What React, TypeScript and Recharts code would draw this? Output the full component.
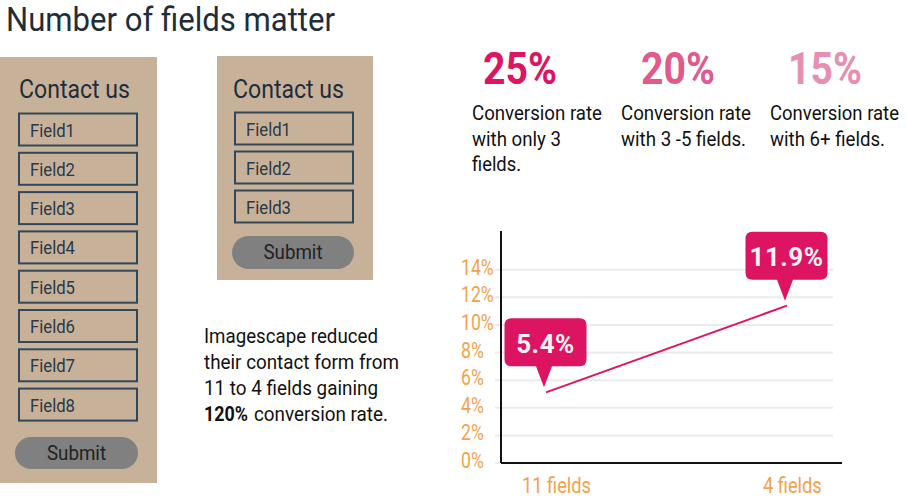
import React from "react";
import { LineChart, Line, XAxis, YAxis, CartesianGrid, LabelList } from "recharts";

// ---------- data ----------
const title = "Number of fields matter";
const formTitle = "Contact us";
const submitLabel = "Submit";
const longFormFields = ["Field1", "Field2", "Field3", "Field4", "Field5", "Field6", "Field7", "Field8"];
const shortFormFields = ["Field1", "Field2", "Field3"];
const statValues = ["25%", "20%", "15%"];
const statDescriptions = [
  ["Conversion rate", "with only 3", "fields."],
  ["Conversion rate", "with 3 -5 fields."],
  ["Conversion rate", "with 6+ fields."],
];
const paragraphLines = ["Imagescape reduced", "their contact form from", "11 to 4 fields gaining"];
const paragraphBold = "120%";
const paragraphTail = "conversion rate.";

const categories = ["11 fields", "4 fields"];
const conversionRates = [5.4, 11.9];
const calloutLabels = ["5.4%", "11.9%"];
const yTicks = [0, 2, 4, 6, 8, 10, 12, 14];

const chartData = categories.map((name, i) => ({ name, rate: conversionRates[i], label: calloutLabels[i] }));

// ---------- styles ----------
const FONT = "Roboto, 'Noto Sans', sans-serif";
const PANEL = "#c7b299";
const NAVY = "#1f2d3b";
const FIELD_STROKE = "#33475a";
const SUBMIT = "#808080";
const PINK = "#dc1461";
const ORANGE = "#f4a24a";
const GRID = "#ebebeb";
const statColors = ["#dc1461", "#e05a8b", "#e68fb0"];
const statX = [483, 641, 788];
const descX = [472, 621, 770];
const descWidths = [
  [130, 89, 49],
  [130, 125],
  [129, 115],
];
const paraWidths = [174, 195, 174];

const Y_DOMAIN: [number, number] = [0, 16.8];
const PLOT_TOP = 231;
const PLOT_BOTTOM = 463;

const YTick = (props: any) => {
  const { y, payload } = props;
  const label = `${payload.value}%`;
  return (
    <text
      transform={`translate(461,${y + 5}) scale(0.8,1)`}
      fontFamily={FONT}
      fontSize={22}
      fill={ORANGE}
      textAnchor="start"
    >
      {label}
    </text>
  );
};

const XTick = (props: any) => {
  const { x, y, payload } = props;
  return (
    <text
      transform={`translate(${x - 24},${y + 30}) scale(0.83,1)`}
      fontFamily={FONT}
      fontSize={22}
      fill={ORANGE}
      textAnchor="start"
    >
      {payload.value}
    </text>
  );
};

const Callout = (props: any) => {
  const { x, y, index } = props;
  const text = calloutLabels[index];
  const tipX = x - 2;
  const tipY = y - 5;
  const w = 82;
  const h = 48;
  const cx = tipX + 1.5;
  const bottom = tipY - 21;
  const top = bottom - h;
  const left = cx - w / 2;
  const r = 7;
  const d = [
    `M ${left + r} ${top}`,
    `H ${left + w - r}`,
    `Q ${left + w} ${top} ${left + w} ${top + r}`,
    `V ${bottom - r}`,
    `Q ${left + w} ${bottom} ${left + w - r} ${bottom}`,
    `H ${tipX + 8}`,
    `L ${tipX} ${tipY}`,
    `L ${tipX - 8} ${bottom}`,
    `H ${left + r}`,
    `Q ${left} ${bottom} ${left} ${bottom - r}`,
    `V ${top + r}`,
    `Q ${left} ${top} ${left + r} ${top}`,
    "Z",
  ].join(" ");
  return (
    <g>
      <path d={d} fill={PINK} />
      <text
        x={cx}
        y={top + 34.5}
        textAnchor="middle"
        fontFamily={FONT}
        fontWeight={700}
        fontSize={26}
        letterSpacing={0.5}
        fill="#f3f3f3"
      >
        {text}
      </text>
    </g>
  );
};

const FormPanel = ({
  x, y, w, h, fields, fieldX, fieldTop, pitch, submitX, submitY, submitW, submitH, titleX,
}: any) => (
  <g>
    <rect x={x} y={y} width={w} height={h} fill={PANEL} />
    <text x={titleX} y={98} fontFamily={FONT} fontSize={26} fill={NAVY} textLength={111} lengthAdjust="spacingAndGlyphs">
      {formTitle}
    </text>
    {fields.map((f: string, i: number) => {
      const top = fieldTop + i * pitch;
      return (
        <g key={f}>
          <rect x={fieldX} y={top} width={118} height={32} fill="none" stroke={FIELD_STROKE} strokeWidth={2} />
          <text x={fieldX + 11} y={top + 23} fontFamily={FONT} fontSize={19} fill="#2a3847" textLength={45} lengthAdjust="spacingAndGlyphs">
            {f}
          </text>
        </g>
      );
    })}
    <rect x={submitX} y={submitY} width={submitW} height={submitH} rx={submitH / 2} fill={SUBMIT} />
    <text
      x={submitX + submitW / 2}
      y={submitY + 23}
      textAnchor="middle"
      fontFamily={FONT}
      fontSize={20}
      fill="#222"
      textLength={59}
      lengthAdjust="spacingAndGlyphs"
    >
      {submitLabel}
    </text>
  </g>
);

const gridCoords = (args: any) => {
  const scale = args?.yAxis?.scale;
  if (scale && typeof scale === "function") {
    return yTicks.map((t) => scale(t));
  }
  return yTicks.map(
    (t) => PLOT_BOTTOM - ((t - Y_DOMAIN[0]) / (Y_DOMAIN[1] - Y_DOMAIN[0])) * (PLOT_BOTTOM - PLOT_TOP)
  );
};

export default function App() {
  return (
    <div style={{ position: "absolute", left: 0, top: 0, width: 906, height: 501, background: "#fff", overflow: "hidden" }}>
      <svg width={906} height={501} style={{ position: "absolute", left: 0, top: 0 }}>
        <text x={6} y={31} fontFamily={FONT} fontSize={33} fill={NAVY} textLength={329} lengthAdjust="spacingAndGlyphs">
          {title}
        </text>

        <FormPanel
          x={0} y={57} w={157} h={426}
          fields={longFormFields} fieldX={19} fieldTop={113.5} pitch={39.3}
          submitX={15} submitY={437} submitW={123} submitH={32} titleX={19}
        />
        <FormPanel
          x={217} y={56} w={156} h={224}
          fields={shortFormFields} fieldX={235} fieldTop={112.5} pitch={39}
          submitX={232} submitY={236} submitW={122} submitH={33} titleX={233}
        />

        {paragraphLines.map((line, i) => (
          <text key={line} x={204} y={343 + i * 26} fontFamily={FONT} fontSize={21} fill="#111" textLength={paraWidths[i]} lengthAdjust="spacingAndGlyphs">
            {line}
          </text>
        ))}
        <text x={204} y={421} fontFamily={FONT} fontWeight={700} fontSize={21} fill="#111" textLength={44} lengthAdjust="spacingAndGlyphs">
          {paragraphBold}
        </text>
        <text x={254} y={421} fontFamily={FONT} fontSize={21} fill="#111" textLength={134} lengthAdjust="spacingAndGlyphs">
          {paragraphTail}
        </text>

        {statValues.map((s, i) => (
          <text key={s} x={statX[i]} y={84} fontFamily={FONT} fontWeight={700} fontSize={45} fill={statColors[i]} textLength={74} lengthAdjust="spacingAndGlyphs">
            {s}
          </text>
        ))}
        {statDescriptions.map((lines, c) =>
          lines.map((line, i) => (
            <text
              key={`${c}-${i}`}
              x={descX[c]}
              y={120 + i * 25.5}
              fontFamily={FONT}
              fontSize={20}
              fill="#111"
              textLength={descWidths[c][i]}
              lengthAdjust="spacingAndGlyphs"
            >
              {line}
            </text>
          ))
        )}
      </svg>

      <div style={{ position: "absolute", left: 0, top: 0 }}>
        <LineChart width={906} height={501} data={chartData} margin={{ top: PLOT_TOP, right: 64, bottom: 8, left: 0 }}>
          <CartesianGrid
            yAxisId="grid"
            vertical={false}
            stroke={GRID}
            strokeWidth={2}
            x={495}
            width={338}
            horizontalCoordinatesGenerator={gridCoords}
          />
          <XAxis
            dataKey="name"
            height={30}
            padding={{ left: 45, right: 55 }}
            axisLine={{ stroke: "#111", strokeWidth: 2 }}
            tickLine={false}
            tickSize={0}
            tickMargin={0}
            tick={<XTick />}
            interval={0}
          />
          <YAxis
            yAxisId="grid"
            width={501}
            domain={Y_DOMAIN}
            ticks={yTicks}
            type="number"
            allowDataOverflow
            axisLine={{ stroke: "#111", strokeWidth: 2 }}
            tickLine={false}
            tick={<YTick />}
            interval={0}
          />
          <YAxis yAxisId="line" hide domain={[0.1, 17.5]} type="number" allowDataOverflow />
          {/* invisible copy on the visible axis so that axis resolves its ticks */}
          <Line
            yAxisId="grid"
            dataKey="rate"
            stroke="none"
            dot={false}
            activeDot={false}
            legendType="none"
            isAnimationActive={false}
          />
          <Line
            yAxisId="line"
            dataKey="rate"
            type="linear"
            stroke={PINK}
            strokeWidth={2}
            dot={false}
            activeDot={false}
            isAnimationActive={false}
          >
            <LabelList dataKey="label" content={<Callout />} />
          </Line>
        </LineChart>
      </div>
    </div>
  );
}
